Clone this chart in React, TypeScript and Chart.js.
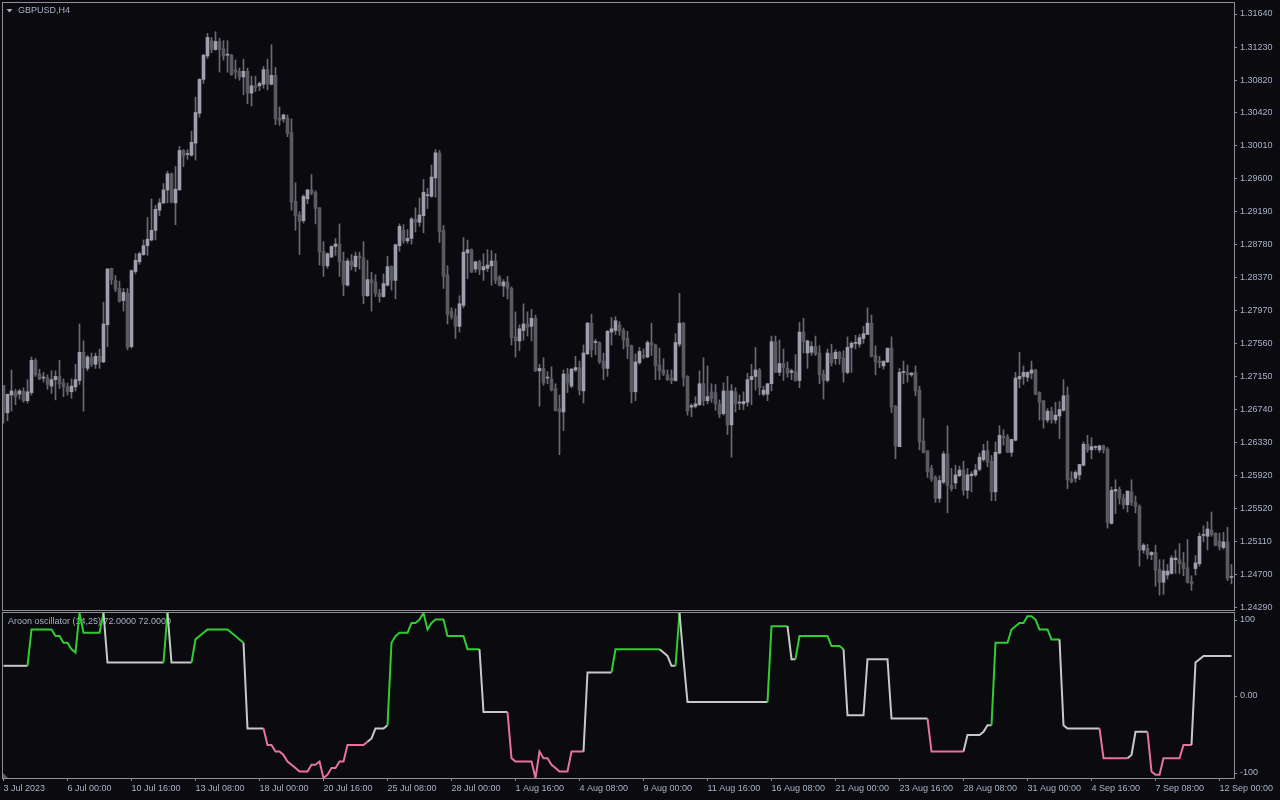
import React, { useEffect, useRef } from "react";
import { Chart, registerables } from "chart.js";
Chart.register(...registerables);

const BG = "#0a0a0f";
const FRAME = "#8f8f96";
const TEXT = "#a9b3c6";
const BULL = "#9d9fac";
const BEAR = "#5a5a60";
const WICK = "#6a6a70";
const OSC_GREEN = "#32cd32";
const OSC_PINK = "#e8739a";
const OSC_GRAY = "#c8c8c8";
const FONT = "'Liberation Sans', Arial, sans-serif";

const SYMBOL_TITLE = "GBPUSD,H4";
const OSC_TITLE = "Aroon oscillator (14,25) 72.0000 72.0000";

const TIME_LABELS = ["3 Jul 2023", "6 Jul 00:00", "10 Jul 16:00", "13 Jul 08:00", "18 Jul 00:00", "20 Jul 16:00", "25 Jul 08:00", "28 Jul 00:00", "1 Aug 16:00", "4 Aug 08:00", "9 Aug 00:00", "11 Aug 16:00", "16 Aug 08:00", "21 Aug 00:00", "23 Aug 16:00", "28 Aug 08:00", "31 Aug 00:00", "4 Sep 16:00", "7 Sep 08:00", "12 Sep 00:00"];
const TIME_LABEL_BARS = [0, 16, 32, 48, 64, 80, 96, 112, 128, 144, 160, 176, 192, 208, 224, 240, 256, 272, 288, 304];

const PRICE_TICKS = ["1.31640", "1.31230", "1.30820", "1.30420", "1.30010", "1.29600", "1.29190", "1.28780", "1.28370", "1.27970", "1.27560", "1.27150", "1.26740", "1.26330", "1.25920", "1.25520", "1.25110", "1.24700", "1.24290"];
const PRICE_MIN = 1.242566;
const PRICE_MAX = 1.317763;

const OSC_TICK_VALUES = [100, 0, -100];
const OSC_TICK_LABELS = ["100", "0.00", "-100"];

const OPEN = [
  1.2704, 1.2670, 1.2692, 1.2696, 1.2693, 1.2697, 1.2685, 1.2695, 1.2735, 1.2718,
  1.2713, 1.2713, 1.2703, 1.2711, 1.2715, 1.2707, 1.2702, 1.2696, 1.2702, 1.2710,
  1.2745, 1.2725, 1.2738, 1.2730, 1.2740, 1.2733, 1.2779, 1.2849, 1.2834, 1.2824,
  1.2809, 1.2818, 1.2752, 1.2845, 1.2857, 1.2866, 1.2877, 1.2884, 1.2896, 1.2921,
  1.2930, 1.2946, 1.2966, 1.2930, 1.2946, 1.2995, 1.2990, 1.2989, 1.3004, 1.3041,
  1.3083, 1.3112, 1.3131, 1.3120, 1.3130, 1.3121, 1.3113, 1.3113, 1.3095, 1.3093,
  1.3086, 1.3093, 1.3066, 1.3075, 1.3075, 1.3077, 1.3095, 1.3077, 1.3088, 1.3035,
  1.3034, 1.3035, 1.3017, 1.2932, 1.2915, 1.2908, 1.2935, 1.2946, 1.2943, 1.2924,
  1.2870, 1.2852, 1.2863, 1.2876, 1.2879, 1.2858, 1.2828, 1.2858, 1.2851, 1.2864,
  1.2862, 1.2815, 1.2835, 1.2832, 1.2818, 1.2814, 1.2828, 1.2851, 1.2834, 1.2877,
  1.2896, 1.2883, 1.2886, 1.2910, 1.2906, 1.2914, 1.2939, 1.2938, 1.2961, 1.2992,
  1.2896, 1.2841, 1.2796, 1.2790, 1.2777, 1.2803, 1.2868, 1.2872, 1.2848, 1.2857,
  1.2847, 1.2849, 1.2852, 1.2858, 1.2838, 1.2827, 1.2832, 1.2824, 1.2764, 1.2759,
  1.2772, 1.2780, 1.2777, 1.2787, 1.2722, 1.2725, 1.2713, 1.2712, 1.2700, 1.2675,
  1.2671, 1.2718, 1.2703, 1.2723, 1.2726, 1.2697, 1.2743, 1.2781, 1.2757, 1.2757,
  1.2734, 1.2725, 1.2770, 1.2772, 1.2779, 1.2772, 1.2762, 1.2753, 1.2696, 1.2732,
  1.2741, 1.2739, 1.2757, 1.2754, 1.2729, 1.2723, 1.2717, 1.2713, 1.2710, 1.2755,
  1.2781, 1.2715, 1.2677, 1.2678, 1.2680, 1.2706, 1.2685, 1.2696, 1.2695, 1.2681,
  1.2669, 1.2697, 1.2655, 1.2696, 1.2682, 1.2681, 1.2683, 1.2711, 1.2715, 1.2723,
  1.2693, 1.2693, 1.2706, 1.2758, 1.2720, 1.2731, 1.2725, 1.2720, 1.2721, 1.2710,
  1.2770, 1.2744, 1.2745, 1.2752, 1.2744, 1.2718, 1.2710, 1.2743, 1.2737, 1.2745,
  1.2738, 1.2720, 1.2751, 1.2756, 1.2755, 1.2762, 1.2767, 1.2781, 1.2741, 1.2734,
  1.2728, 1.2733, 1.2750, 1.2678, 1.2628, 1.2720, 1.2720, 1.2717, 1.2720, 1.2698,
  1.2635, 1.2623, 1.2601, 1.2590, 1.2564, 1.2584, 1.2619, 1.2580, 1.2583, 1.2592,
  1.2599, 1.2574, 1.2592, 1.2593, 1.2600, 1.2612, 1.2623, 1.2610, 1.2572, 1.2620,
  1.2641, 1.2640, 1.2621, 1.2636, 1.2712, 1.2715, 1.2714, 1.2719, 1.2723, 1.2695,
  1.2685, 1.2661, 1.2672, 1.2661, 1.2666, 1.2673, 1.2692, 1.2588, 1.2589, 1.2593,
  1.2605, 1.2631, 1.2624, 1.2627, 1.2624, 1.2629, 1.2625, 1.2533, 1.2573, 1.2575,
  1.2564, 1.2556, 1.2572, 1.2559, 1.2554, 1.2500, 1.2502, 1.2494, 1.2497, 1.2476,
  1.2460, 1.2469, 1.2471, 1.2488, 1.2488, 1.2484, 1.2478, 1.2461, 1.2477, 1.2483,
  1.2518, 1.2517, 1.2525, 1.2521, 1.2511, 1.2503, 1.2510, 1.2466,
];

const HIGH = [
  1.2704, 1.2693, 1.2723, 1.2699, 1.2699, 1.2701, 1.2711, 1.2739, 1.2737, 1.2724,
  1.2720, 1.2717, 1.2722, 1.2722, 1.2735, 1.2712, 1.2707, 1.2712, 1.2730, 1.2780,
  1.2759, 1.2741, 1.2744, 1.2744, 1.2749, 1.2807, 1.2849, 1.2849, 1.2840, 1.2833,
  1.2824, 1.2824, 1.2847, 1.2867, 1.2869, 1.2884, 1.2912, 1.2935, 1.2927, 1.2935,
  1.2954, 1.2969, 1.2967, 1.2975, 1.3000, 1.2996, 1.2996, 1.3019, 1.3061, 1.3084,
  1.3114, 1.3140, 1.3135, 1.3142, 1.3134, 1.3131, 1.3131, 1.3114, 1.3107, 1.3097,
  1.3108, 1.3097, 1.3087, 1.3087, 1.3080, 1.3099, 1.3108, 1.3126, 1.3098, 1.3049,
  1.3040, 1.3039, 1.3034, 1.2955, 1.2919, 1.2940, 1.2947, 1.2965, 1.2945, 1.2924,
  1.2882, 1.2868, 1.2877, 1.2886, 1.2904, 1.2869, 1.2861, 1.2866, 1.2869, 1.2869,
  1.2882, 1.2859, 1.2844, 1.2841, 1.2823, 1.2842, 1.2864, 1.2852, 1.2879, 1.2904,
  1.2903, 1.2897, 1.2912, 1.2924, 1.2936, 1.2959, 1.2948, 1.2977, 1.2996, 1.2995,
  1.2902, 1.2852, 1.2800, 1.2799, 1.2815, 1.2887, 1.2884, 1.2873, 1.2858, 1.2859,
  1.2867, 1.2872, 1.2871, 1.2867, 1.2840, 1.2835, 1.2839, 1.2826, 1.2795, 1.2779,
  1.2805, 1.2795, 1.2798, 1.2791, 1.2730, 1.2738, 1.2721, 1.2727, 1.2706, 1.2692,
  1.2723, 1.2725, 1.2725, 1.2740, 1.2734, 1.2754, 1.2782, 1.2792, 1.2761, 1.2758,
  1.2744, 1.2772, 1.2788, 1.2789, 1.2783, 1.2775, 1.2771, 1.2754, 1.2743, 1.2751,
  1.2749, 1.2759, 1.2781, 1.2755, 1.2750, 1.2737, 1.2723, 1.2723, 1.2768, 1.2818,
  1.2782, 1.2716, 1.2681, 1.2690, 1.2722, 1.2738, 1.2728, 1.2706, 1.2705, 1.2686,
  1.2707, 1.2715, 1.2705, 1.2701, 1.2692, 1.2696, 1.2719, 1.2730, 1.2751, 1.2725,
  1.2703, 1.2706, 1.2765, 1.2765, 1.2760, 1.2749, 1.2733, 1.2724, 1.2742, 1.2782,
  1.2787, 1.2760, 1.2758, 1.2765, 1.2753, 1.2723, 1.2749, 1.2755, 1.2748, 1.2746,
  1.2747, 1.2764, 1.2758, 1.2766, 1.2767, 1.2777, 1.2800, 1.2791, 1.2753, 1.2740,
  1.2734, 1.2750, 1.2764, 1.2679, 1.2725, 1.2734, 1.2729, 1.2720, 1.2728, 1.2703,
  1.2663, 1.2623, 1.2605, 1.2592, 1.2592, 1.2622, 1.2654, 1.2601, 1.2605, 1.2604,
  1.2610, 1.2601, 1.2597, 1.2606, 1.2620, 1.2631, 1.2635, 1.2617, 1.2634, 1.2654,
  1.2649, 1.2643, 1.2637, 1.2720, 1.2745, 1.2728, 1.2721, 1.2734, 1.2724, 1.2696,
  1.2685, 1.2675, 1.2677, 1.2683, 1.2684, 1.2711, 1.2702, 1.2597, 1.2598, 1.2606,
  1.2634, 1.2642, 1.2639, 1.2629, 1.2630, 1.2630, 1.2627, 1.2578, 1.2587, 1.2578,
  1.2569, 1.2573, 1.2587, 1.2567, 1.2556, 1.2508, 1.2507, 1.2498, 1.2506, 1.2488,
  1.2488, 1.2482, 1.2493, 1.2500, 1.2508, 1.2497, 1.2513, 1.2468, 1.2493, 1.2521,
  1.2530, 1.2535, 1.2547, 1.2521, 1.2521, 1.2522, 1.2528, 1.2482,
];

const LOW = [
  1.2657, 1.2660, 1.2672, 1.2680, 1.2687, 1.2683, 1.2682, 1.2692, 1.2715, 1.2711,
  1.2708, 1.2699, 1.2694, 1.2686, 1.2700, 1.2690, 1.2692, 1.2688, 1.2697, 1.2705,
  1.2672, 1.2722, 1.2727, 1.2725, 1.2725, 1.2732, 1.2752, 1.2829, 1.2820, 1.2807,
  1.2796, 1.2748, 1.2750, 1.2842, 1.2854, 1.2865, 1.2865, 1.2883, 1.2884, 1.2914,
  1.2929, 1.2930, 1.2930, 1.2903, 1.2946, 1.2975, 1.2984, 1.2988, 1.2983, 1.3036,
  1.3078, 1.3109, 1.3116, 1.3119, 1.3092, 1.3107, 1.3092, 1.3088, 1.3084, 1.3082,
  1.3064, 1.3053, 1.3050, 1.3068, 1.3069, 1.3072, 1.3070, 1.3076, 1.3027, 1.3026,
  1.3030, 1.3012, 1.2921, 1.2896, 1.2866, 1.2905, 1.2929, 1.2940, 1.2904, 1.2853,
  1.2839, 1.2849, 1.2862, 1.2865, 1.2839, 1.2815, 1.2827, 1.2847, 1.2845, 1.2848,
  1.2805, 1.2814, 1.2796, 1.2814, 1.2807, 1.2813, 1.2827, 1.2822, 1.2811, 1.2870,
  1.2880, 1.2880, 1.2879, 1.2894, 1.2901, 1.2893, 1.2923, 1.2937, 1.2937, 1.2881,
  1.2824, 1.2780, 1.2786, 1.2762, 1.2770, 1.2800, 1.2836, 1.2844, 1.2844, 1.2841,
  1.2834, 1.2845, 1.2828, 1.2830, 1.2827, 1.2814, 1.2811, 1.2754, 1.2739, 1.2747,
  1.2760, 1.2765, 1.2759, 1.2721, 1.2678, 1.2704, 1.2706, 1.2697, 1.2672, 1.2618,
  1.2648, 1.2695, 1.2701, 1.2721, 1.2692, 1.2682, 1.2742, 1.2739, 1.2742, 1.2731,
  1.2711, 1.2715, 1.2754, 1.2767, 1.2766, 1.2749, 1.2737, 1.2682, 1.2685, 1.2730,
  1.2737, 1.2738, 1.2741, 1.2711, 1.2711, 1.2716, 1.2710, 1.2706, 1.2709, 1.2752,
  1.2703, 1.2667, 1.2665, 1.2676, 1.2679, 1.2679, 1.2681, 1.2683, 1.2673, 1.2664,
  1.2667, 1.2643, 1.2615, 1.2671, 1.2674, 1.2674, 1.2678, 1.2680, 1.2698, 1.2692,
  1.2691, 1.2685, 1.2697, 1.2720, 1.2716, 1.2710, 1.2714, 1.2711, 1.2709, 1.2701,
  1.2744, 1.2725, 1.2741, 1.2741, 1.2706, 1.2687, 1.2708, 1.2728, 1.2730, 1.2730,
  1.2708, 1.2718, 1.2720, 1.2749, 1.2751, 1.2756, 1.2767, 1.2739, 1.2717, 1.2726,
  1.2724, 1.2732, 1.2670, 1.2613, 1.2628, 1.2706, 1.2708, 1.2715, 1.2691, 1.2624,
  1.2620, 1.2590, 1.2585, 1.2559, 1.2559, 1.2582, 1.2546, 1.2573, 1.2576, 1.2591,
  1.2568, 1.2564, 1.2572, 1.2591, 1.2598, 1.2610, 1.2603, 1.2561, 1.2561, 1.2619,
  1.2630, 1.2621, 1.2616, 1.2635, 1.2701, 1.2705, 1.2709, 1.2712, 1.2692, 1.2661,
  1.2651, 1.2658, 1.2657, 1.2657, 1.2638, 1.2672, 1.2576, 1.2583, 1.2584, 1.2587,
  1.2604, 1.2621, 1.2613, 1.2624, 1.2621, 1.2620, 1.2527, 1.2532, 1.2545, 1.2557,
  1.2551, 1.2547, 1.2555, 1.2546, 1.2480, 1.2496, 1.2489, 1.2488, 1.2455, 1.2444,
  1.2445, 1.2464, 1.2470, 1.2471, 1.2471, 1.2468, 1.2459, 1.2450, 1.2469, 1.2480,
  1.2510, 1.2500, 1.2517, 1.2505, 1.2500, 1.2501, 1.2462, 1.2458,
];

const CLOSE = [
  1.2670, 1.2693, 1.2697, 1.2690, 1.2697, 1.2685, 1.2696, 1.2735, 1.2717, 1.2712,
  1.2713, 1.2705, 1.2711, 1.2715, 1.2706, 1.2702, 1.2696, 1.2703, 1.2711, 1.2745,
  1.2726, 1.2739, 1.2730, 1.2740, 1.2733, 1.2780, 1.2848, 1.2835, 1.2823, 1.2808,
  1.2819, 1.2751, 1.2846, 1.2859, 1.2867, 1.2877, 1.2885, 1.2896, 1.2922, 1.2930,
  1.2946, 1.2966, 1.2931, 1.2947, 1.2995, 1.2988, 1.2990, 1.3005, 1.3042, 1.3083,
  1.3113, 1.3135, 1.3120, 1.3130, 1.3120, 1.3112, 1.3113, 1.3089, 1.3092, 1.3086,
  1.3093, 1.3066, 1.3075, 1.3073, 1.3078, 1.3095, 1.3077, 1.3088, 1.3034, 1.3032,
  1.3039, 1.3016, 1.2931, 1.2914, 1.2907, 1.2938, 1.2946, 1.2942, 1.2923, 1.2869,
  1.2852, 1.2867, 1.2876, 1.2879, 1.2857, 1.2829, 1.2858, 1.2852, 1.2864, 1.2862,
  1.2815, 1.2835, 1.2831, 1.2818, 1.2814, 1.2830, 1.2851, 1.2834, 1.2878, 1.2901,
  1.2883, 1.2886, 1.2910, 1.2906, 1.2915, 1.2943, 1.2939, 1.2962, 1.2992, 1.2894,
  1.2839, 1.2792, 1.2789, 1.2777, 1.2805, 1.2869, 1.2872, 1.2844, 1.2857, 1.2847,
  1.2851, 1.2853, 1.2858, 1.2834, 1.2828, 1.2832, 1.2824, 1.2763, 1.2759, 1.2774,
  1.2780, 1.2776, 1.2787, 1.2722, 1.2725, 1.2707, 1.2713, 1.2698, 1.2673, 1.2671,
  1.2718, 1.2707, 1.2724, 1.2726, 1.2698, 1.2744, 1.2781, 1.2748, 1.2757, 1.2733,
  1.2725, 1.2771, 1.2774, 1.2784, 1.2771, 1.2760, 1.2752, 1.2696, 1.2733, 1.2746,
  1.2739, 1.2757, 1.2754, 1.2728, 1.2722, 1.2718, 1.2711, 1.2710, 1.2757, 1.2781,
  1.2714, 1.2672, 1.2679, 1.2681, 1.2706, 1.2685, 1.2690, 1.2688, 1.2681, 1.2668,
  1.2697, 1.2655, 1.2697, 1.2681, 1.2682, 1.2684, 1.2711, 1.2715, 1.2723, 1.2701,
  1.2698, 1.2706, 1.2758, 1.2720, 1.2731, 1.2726, 1.2719, 1.2722, 1.2710, 1.2770,
  1.2758, 1.2759, 1.2752, 1.2743, 1.2717, 1.2710, 1.2744, 1.2732, 1.2745, 1.2737,
  1.2720, 1.2751, 1.2756, 1.2756, 1.2763, 1.2768, 1.2781, 1.2740, 1.2733, 1.2732,
  1.2734, 1.2750, 1.2677, 1.2629, 1.2720, 1.2721, 1.2717, 1.2719, 1.2697, 1.2634,
  1.2621, 1.2597, 1.2588, 1.2564, 1.2586, 1.2619, 1.2580, 1.2576, 1.2593, 1.2599,
  1.2574, 1.2593, 1.2594, 1.2599, 1.2615, 1.2623, 1.2609, 1.2572, 1.2621, 1.2642,
  1.2639, 1.2621, 1.2637, 1.2713, 1.2715, 1.2720, 1.2720, 1.2723, 1.2693, 1.2683,
  1.2661, 1.2672, 1.2662, 1.2667, 1.2674, 1.2691, 1.2587, 1.2585, 1.2596, 1.2606,
  1.2631, 1.2624, 1.2628, 1.2627, 1.2629, 1.2624, 1.2534, 1.2574, 1.2575, 1.2564,
  1.2556, 1.2573, 1.2559, 1.2554, 1.2500, 1.2506, 1.2494, 1.2497, 1.2475, 1.2460,
  1.2474, 1.2474, 1.2490, 1.2490, 1.2483, 1.2477, 1.2460, 1.2458, 1.2484, 1.2517,
  1.2518, 1.2526, 1.2519, 1.2506, 1.2504, 1.2510, 1.2465, 1.2466,
];

const AROON_OSC = [
  36, 36, 36, 36, 36, 36, 36, 80, 80, 80,
  80, 80, 80, 72, 72, 64, 64, 56, 52, 100,
  76, 76, 76, 76, 76, 100, 40, 40, 40, 40,
  40, 40, 40, 40, 40, 40, 40, 40, 40, 40,
  40, 100, 40, 40, 40, 40, 40, 40, 68, 72,
  76, 80, 80, 80, 80, 80, 80, 76, 72, 68,
  64, -40, -40, -40, -40, -40, -60, -60, -68, -68,
  -72, -80, -84, -88, -92, -92, -92, -84, -84, -80,
  -100, -96, -88, -88, -80, -80, -60, -60, -60, -60,
  -60, -56, -52, -40, -40, -40, -36, 64, 72, 76,
  76, 76, 88, 88, 92, 100, 80, 88, 92, 92,
  92, 72, 72, 72, 72, 72, 56, 56, 56, 56,
  -20, -20, -20, -20, -20, -20, -20, -76, -80, -80,
  -80, -80, -80, -100, -68, -76, -76, -84, -88, -92,
  -92, -92, -68, -68, -68, -68, 28, 28, 28, 28,
  28, 28, 28, 56, 56, 56, 56, 56, 56, 56,
  56, 56, 56, 56, 56, 52, 48, 36, 36, 100,
  44, -8, -8, -8, -8, -8, -8, -8, -8, -8,
  -8, -8, -8, -8, -8, -8, -8, -8, -8, -8,
  -8, -8, 84, 84, 84, 84, 84, 44, 44, 72,
  72, 72, 72, 72, 72, 72, 72, 60, 60, 60,
  56, -24, -24, -24, -24, -24, 44, 44, 44, 44,
  44, 44, -28, -28, -28, -28, -28, -28, -28, -28,
  -28, -28, -68, -68, -68, -68, -68, -68, -68, -68,
  -68, -48, -48, -48, -48, -44, -36, -36, 64, 64,
  64, 64, 80, 84, 88, 88, 96, 96, 92, 80,
  80, 80, 68, 68, 68, -36, -40, -40, -40, -40,
  -40, -40, -40, -40, -40, -76, -76, -76, -76, -76,
  -76, -76, -72, -44, -44, -44, -44, -92, -96, -96,
  -76, -76, -76, -76, -76, -60, -60, -60, 40, 44,
  48, 48, 48, 48, 48, 48, 48, 48,
];

// u = up colour, d = down colour, n = neutral, one letter per bar
const AROON_STATE = [
  "nnnnnnnuuu", "uuuuuuuuuu", "uuuuuunnnn", "nnnnnnnnnn", "nunnnnnnuu",
  "uuuuuuuuuu", "unnnnndddd", "dddddddddd", "dddddddddd", "ddnnnnnuuu",
  "uuuuuuuuuu", "uuuuuuuuuu", "nnnnnnnddd", "dddddddddd", "ddddddnnnn",
  "nnnuuuuuuu", "uuuuunnnnu", "nnnnnnnnnn", "nnnnnnnnnn", "nnuuuuunnu",
  "uuuuuuuuuu", "unnnnnnnnn", "nnnnnnnnnn", "nndddddddd", "dnnnnnnnuu",
  "uuuuuuuuuu", "uuuuunnnnn", "nnnnnddddd", "ddnnnnnddd", "ddddddddnn",
  "nnnnnnnn",
].join("");

const STATE_COLOR: Record<string, string> = { u: OSC_GREEN, d: OSC_PINK, n: OSC_GRAY };

const PLOT_LEFT = 3;
const AXIS_W = 46;
const BAR_PX = 4;
const X_MIN = -0.125;
const X_MAX = X_MIN + (1280 - AXIS_W - PLOT_LEFT) / BAR_PX;

function drawFrame(chart: any) {
  const { ctx, chartArea: a } = chart;
  ctx.save();
  ctx.strokeStyle = FRAME;
  ctx.lineWidth = 1;
  ctx.strokeRect(a.left - 0.5, a.top - 0.5, a.right - a.left + 1, a.bottom - a.top + 1);
  ctx.restore();
}

const mainDecor = {
  id: "mainDecor",
  afterDraw(chart: any) {
    drawFrame(chart);
    const { ctx } = chart;
    ctx.save();
    ctx.fillStyle = TEXT;
    ctx.beginPath();
    ctx.moveTo(6.5, 9);
    ctx.lineTo(12.5, 9);
    ctx.lineTo(9.5, 12.5);
    ctx.closePath();
    ctx.fill();
    ctx.font = `9px ${FONT}`;
    ctx.textBaseline = "middle";
    ctx.textAlign = "left";
    ctx.fillText(SYMBOL_TITLE, 18, 10.5);
    ctx.restore();
  },
};

const oscDecor = {
  id: "oscDecor",
  beforeDatasetsDraw(chart: any) {
    const { ctx } = chart;
    ctx.save();
    ctx.fillStyle = TEXT;
    ctx.font = `9px ${FONT}`;
    ctx.textBaseline = "middle";
    ctx.textAlign = "left";
    ctx.fillText(OSC_TITLE, 8, 10.5);
    ctx.restore();
  },
  afterDraw(chart: any) {
    drawFrame(chart);
    const { ctx, chartArea: a } = chart;
    const ys = chart.scales.y;
    ctx.save();
    ctx.font = `9px ${FONT}`;
    ctx.textBaseline = "middle";
    ctx.textAlign = "left";
    OSC_TICK_VALUES.forEach((v, i) => {
      let y = ys.getPixelForValue(v);
      y = Math.min(Math.max(y, a.top + 6.5), a.bottom - 5.5);
      const yy = Math.round(y) + 0.5;
      ctx.strokeStyle = FRAME;
      ctx.beginPath();
      ctx.moveTo(a.right + 1, yy);
      ctx.lineTo(a.right + 3, yy);
      ctx.stroke();
      ctx.fillStyle = TEXT;
      ctx.fillText(OSC_TICK_LABELS[i], a.right + 6, y);
    });
    ctx.fillStyle = "#5c5c66";
    ctx.beginPath();
    ctx.moveTo(a.left, a.bottom - 5);
    ctx.lineTo(a.left, a.bottom);
    ctx.lineTo(a.left + 5, a.bottom);
    ctx.closePath();
    ctx.fill();
    ctx.restore();
  },
};

function noPad(s: any) {
  s.paddingTop = 0;
  s.paddingBottom = 0;
  s.paddingLeft = 0;
  s.paddingRight = 0;
}

export default function App() {
  const mainRef = useRef<HTMLCanvasElement>(null);
  const oscRef = useRef<HTMLCanvasElement>(null);

  useEffect(() => {
    document.body.style.margin = "0";
    document.body.style.background = BG;

    const bodies = OPEN.map((o, i) => ({ x: i, y: [Math.min(o, CLOSE[i]), Math.max(o, CLOSE[i])] }));
    const bodyColors = OPEN.map((o, i) => (CLOSE[i] >= o ? BULL : BEAR));
    const wicks = HIGH.map((h, i) => ({ x: i, y: [LOW[i], h] }));

    const main = new Chart(mainRef.current as HTMLCanvasElement, {
      type: "bar",
      data: {
        datasets: [
          { data: bodies as any, backgroundColor: bodyColors, barThickness: 3, minBarLength: 1, grouped: false, order: 1, borderWidth: 0 } as any,
          { data: wicks as any, backgroundColor: WICK, barThickness: 1, minBarLength: 1, grouped: false, order: 2, borderWidth: 0 } as any,
        ],
      },
      options: {
        responsive: false,
        animation: false,
        devicePixelRatio: 1,
        layout: { padding: { left: PLOT_LEFT, top: 3, right: 0, bottom: 1 } },
        plugins: { legend: { display: false }, tooltip: { enabled: false } },
        scales: {
          x: { type: "linear", min: X_MIN, max: X_MAX, offset: false, display: false, grid: { offset: false } },
          y: {
            position: "right",
            min: PRICE_MIN,
            max: PRICE_MAX,
            afterFit(s: any) { s.width = AXIS_W; noPad(s); },
            afterBuildTicks(s: any) { s.ticks = PRICE_TICKS.map((t) => ({ value: parseFloat(t) })); },
            ticks: { callback: (_v: any, i: number) => PRICE_TICKS[i], color: TEXT, font: { family: FONT, size: 9 }, padding: 3, autoSkip: false },
            grid: { drawOnChartArea: false, drawTicks: true, tickLength: 3, color: FRAME },
            border: { display: false },
          },
        },
      } as any,
      plugins: [mainDecor],
    });

    const osc = new Chart(oscRef.current as HTMLCanvasElement, {
      type: "line",
      data: {
        datasets: [
          {
            data: AROON_OSC.map((v, i) => ({ x: i, y: v })),
            borderWidth: 2,
            pointRadius: 0,
            tension: 0,
            borderColor: OSC_GRAY,
            segment: { borderColor: (c: any) => STATE_COLOR[AROON_STATE[c.p1DataIndex]] },
          } as any,
        ],
      },
      options: {
        responsive: false,
        animation: false,
        devicePixelRatio: 1,
        layout: { padding: { left: PLOT_LEFT, top: 2, right: 0, bottom: 0 } },
        plugins: { legend: { display: false }, tooltip: { enabled: false } },
        scales: {
          x: {
            type: "linear",
            min: X_MIN,
            max: X_MAX,
            offset: false,
            afterFit(s: any) { s.height = 22; noPad(s); },
            afterBuildTicks(s: any) { s.ticks = TIME_LABEL_BARS.map((v) => ({ value: v })); },
            ticks: { autoSkip: false, maxRotation: 0, minRotation: 0, align: "start", callback: (_v: any, i: number) => TIME_LABELS[i], color: TEXT, font: { family: FONT, size: 9 }, padding: 2 },
            grid: { drawOnChartArea: false, drawTicks: true, tickLength: 3, color: FRAME, offset: false },
            border: { display: false },
          },
          y: {
            position: "right",
            min: -100,
            max: 100,
            afterFit(s: any) { s.width = AXIS_W; noPad(s); },
            ticks: { display: false },
            grid: { display: false },
            border: { display: false },
          },
        },
      } as any,
      plugins: [oscDecor],
    });

    return () => {
      main.destroy();
      osc.destroy();
    };
  }, []);

  return (
    <div style={{ position: "relative", width: 1280, height: 800, background: BG, overflow: "hidden" }}>
      <canvas ref={mainRef} width={1280} height={611} style={{ position: "absolute", left: 0, top: 0, display: "block" }} />
      <canvas ref={oscRef} width={1280} height={189} style={{ position: "absolute", left: 0, top: 611, display: "block" }} />
    </div>
  );
}
